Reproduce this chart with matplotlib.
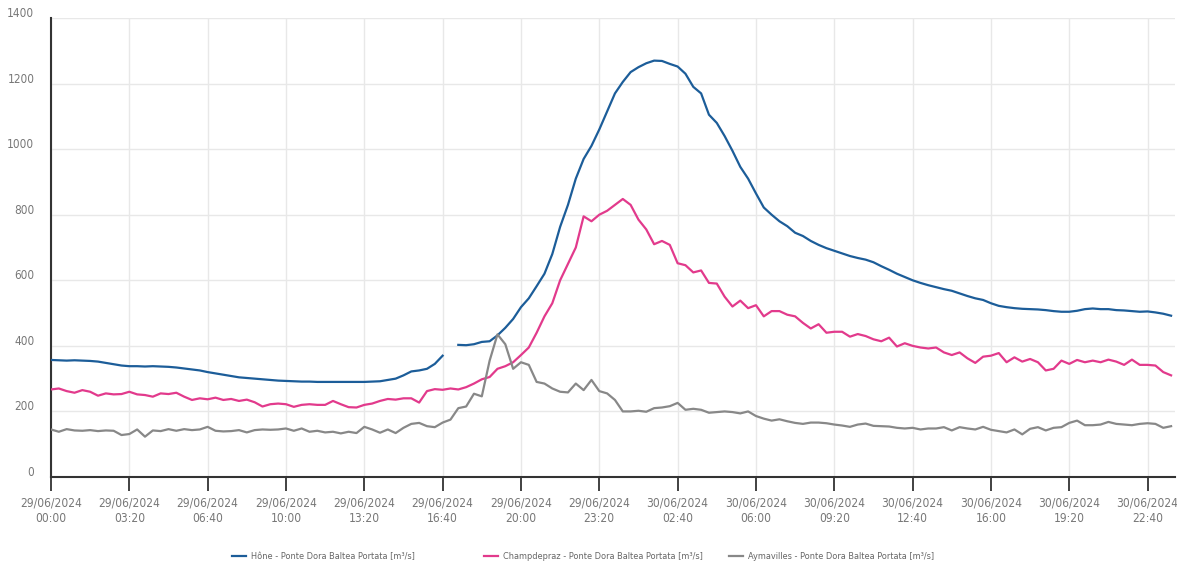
import numpy as np
import pandas as pd
import matplotlib
matplotlib.use("Agg")
import matplotlib.pyplot as plt
import matplotlib.transforms as mtransforms

plt.rcParams['font.family'] = ['DejaVu Sans']
plt.rcParams['font.stretch'] = 'condensed'

# 20-minute readings, 29/06/2024 00:00 -> 30/06/2024 23:40
times = pd.date_range('2024-06-29 00:00', periods=144, freq='20min')

hone = [357, 356, 355, 356, 355, 354, 352, 348, 344, 340,
        338, 338, 337, 338, 337, 336, 334, 331, 328, 325,
        320, 316, 312, 308, 304, 302, 300, 298, 296, 294,
        293, 292, 291, 291, 290, 290, 290, 290, 290, 290,
        290, 291, 292, 296, 300, 310, 322, 325, 330, 345,
        370, np.nan, 403, 402, 405, 412, 414, 432, 455, 482,
        518, 545, 582, 620, 680, 763, 830, 910, 970, 1010,
        1060, 1115, 1170, 1205, 1235, 1250, 1262, 1270, 1269, 1260,
        1252, 1230, 1190, 1170, 1105, 1080, 1040, 995, 946, 910,
        865, 822, 800, 780, 765, 745, 735, 720, 708, 698,
        690, 682, 674, 668, 663, 655, 643, 632, 620, 610,
        600, 592, 585, 579, 573, 568, 560, 552, 545, 540,
        530, 522, 518, 515, 513, 512, 511, 509, 506, 504,
        504, 507, 512, 514, 512, 512, 509, 508, 506, 504,
        505, 502, 498, 492]

champdepraz = [267, 270, 262, 257, 265, 260, 248, 255, 252, 253,
               260, 252, 250, 245, 255, 253, 257, 245, 235, 240,
               237, 242, 235, 238, 232, 236, 228, 215, 222, 224,
               222, 214, 220, 222, 220, 220, 232, 222, 213, 212,
               220, 224, 232, 238, 236, 240, 240, 227, 262, 268,
               266, 270, 267, 274, 285, 298, 305, 330, 338, 350,
               372, 395, 440, 490, 530, 600, 650, 700, 795, 780,
               800, 812, 830, 848, 830, 785, 755, 710, 720, 708,
               652, 646, 624, 630, 592, 590, 550, 520, 538, 515,
               524, 490, 506, 506, 495, 490, 470, 453, 466, 440,
               443, 443, 428, 436, 430, 420, 414, 425, 398, 408,
               400, 395, 392, 395, 380, 372, 380, 362, 348, 367,
               370, 378, 350, 365, 352, 360, 350, 325, 330, 355,
               345, 357, 350, 355, 350, 358, 352, 342, 358, 342,
               342, 340, 320, 310]

aymavilles = [145, 138, 146, 142, 141, 143, 140, 142, 141, 128,
              131, 145, 123, 142, 140, 146, 141, 146, 143, 145,
              153, 141, 139, 140, 143, 136, 143, 145, 144, 145,
              148, 141, 148, 138, 141, 136, 138, 133, 138, 134,
              153, 145, 135, 145, 134, 150, 162, 165, 155, 152,
              166, 175, 210, 215, 254, 246, 355, 435, 405, 330,
              350, 342, 290, 285, 270, 260, 258, 285, 265, 296,
              262, 255, 235, 200, 200, 202, 199, 210, 212, 216,
              226, 205, 208, 205, 196, 198, 200, 198, 194, 200,
              186, 178, 172, 176, 170, 165, 162, 166, 166, 164,
              160, 157, 153, 160, 163, 156, 155, 154, 150, 148,
              150, 145, 148, 148, 152, 142, 152, 148, 145, 153,
              144, 140, 136, 145, 130, 147, 152, 142, 150, 152,
              165, 172, 158, 158, 160, 168, 162, 160, 158, 162,
              164, 162, 150, 155]

labels = ['Hône - Ponte Dora Baltea Portata [m³/s]',
          'Champdepraz - Ponte Dora Baltea Portata [m³/s]',
          'Aymavilles - Ponte Dora Baltea Portata [m³/s]']
colors = ['#1c5d99', '#e23a8c', '#888888']

tick_times = pd.date_range('2024-06-29 00:00', periods=15, freq='200min')
tick_labels = [t.strftime('%d/%m/%Y\n%H:%M') for t in tick_times]
y_ticks = [0, 200, 400, 600, 800, 1000, 1200, 1400]

fig = plt.figure(figsize=(11.77, 5.66), dpi=100)
ax = fig.add_axes([51 / 1177, 1 - 477 / 566, 1124 / 1177, 459 / 566])

lines = []
for series, lab, col in zip([hone, champdepraz, aymavilles], labels, colors):
    ln, = ax.plot(times, series, color=col, lw=1.6, label=lab, zorder=3)
    lines.append(ln)

ax.set_ylim(0, 1400)
ax.set_xlim(times[0], times[0] + pd.Timedelta(minutes=2870))
ax.set_yticks(y_ticks)
ax.set_yticklabels([str(v) for v in y_ticks])
ax.set_xticks(tick_times)
ax.set_xticklabels(tick_labels, linespacing=1.3)

ax.grid(True, color='#e8e8e8', lw=1)
ax.set_axisbelow(True)
for s in ['top', 'right']:
    ax.spines[s].set_visible(False)
for s in ['left', 'bottom']:
    ax.spines[s].set_color('#333333')
    ax.spines[s].set_linewidth(1.5)

ax.tick_params(axis='y', length=0, pad=12, labelsize=8.5, labelcolor='#777777')
ax.tick_params(axis='x', length=10, width=1.3, color='#333333', pad=4,
               labelsize=8.6, labelcolor='#777777')

# y labels sit a little above their grid lines
offset = mtransforms.ScaledTranslation(0, 6 / 100, fig.dpi_scale_trans)
for lbl in ax.get_yticklabels():
    lbl.set_transform(lbl.get_transform() + offset)

# one small legend per series, spaced like the original
for ln, lab, xpos in zip(lines, labels, [232, 484, 729]):
    fig.legend([ln], [lab], loc='center left', bbox_to_anchor=(xpos / 1177, 0.016),
               frameon=False, fontsize=6.6, handlelength=1.5, handletextpad=0.6,
               borderpad=0, borderaxespad=0, labelcolor='#666666')

plt.savefig('out.png', dpi=100)
